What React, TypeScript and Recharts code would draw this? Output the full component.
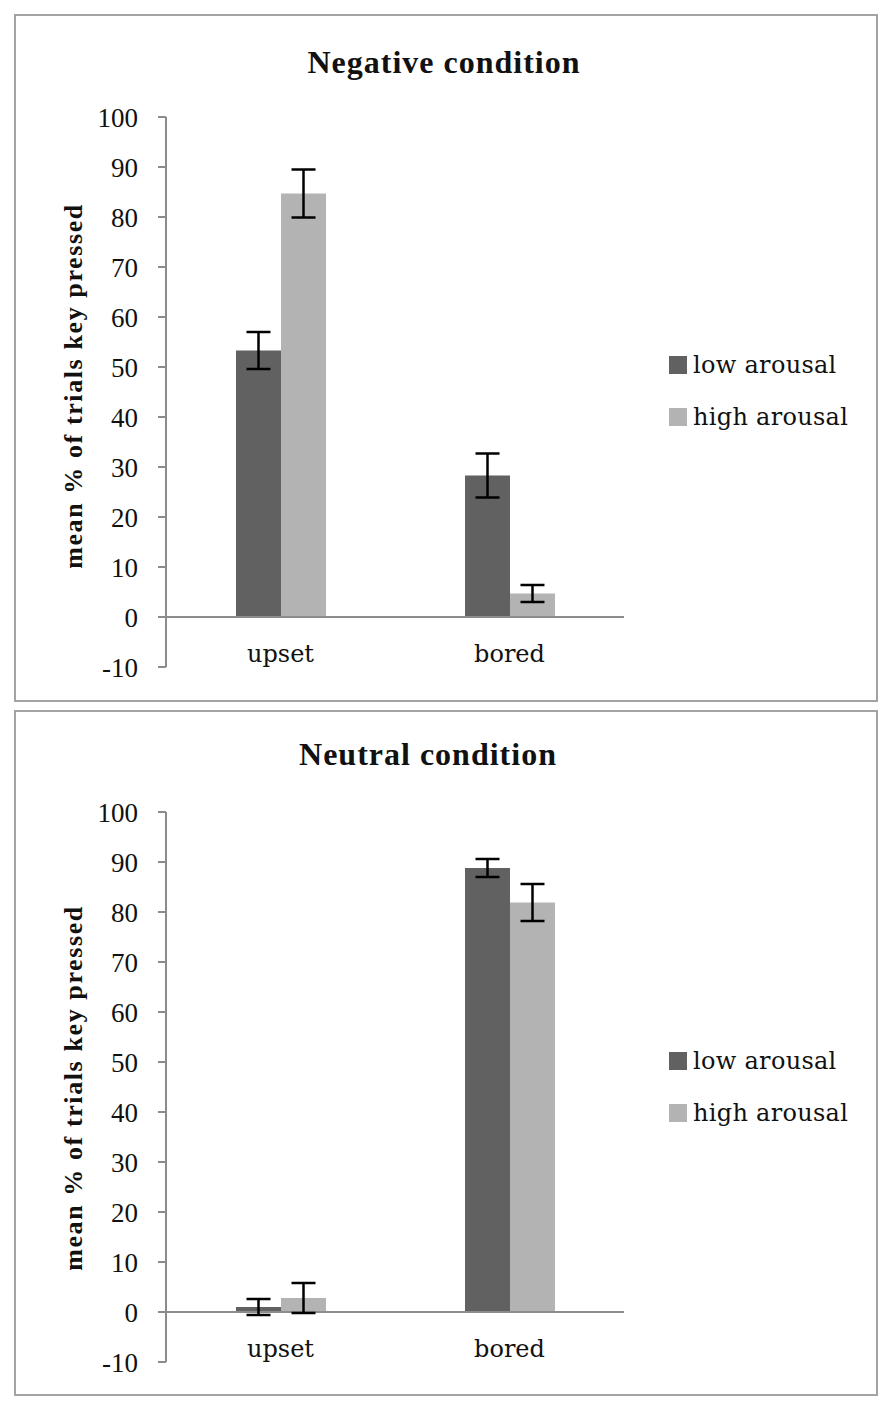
import React from "react";
import {
  Bar,
  BarChart,
  ErrorBar,
  ReferenceLine,
  XAxis,
  YAxis,
} from "recharts";

// categories and series
const categories = ["upset", "bored"];

const negativeLow = [53.3, 28.3];
const negativeLowErr = [3.7, 4.4];
const negativeHigh = [84.7, 4.7];
const negativeHighErr = [4.8, 1.7];

const neutralLow = [1.0, 88.8];
const neutralLowErr = [1.6, 1.8];
const neutralHigh = [2.8, 81.9];
const neutralHighErr = [3.0, 3.7];

const yTicks = [-10, 0, 10, 20, 30, 40, 50, 60, 70, 80, 90, 100];

const seriesNames = ["low arousal", "high arousal"];
const seriesColors = ["#616161", "#b3b3b3"];

const AXIS_GRAY = "#8c8c8c";
const BORDER_GRAY = "#a3a3a3";

interface Row {
  name: string;
  low: number;
  lowErr: number;
  high: number;
  highErr: number;
}

const buildRows = (
  low: number[],
  lowErr: number[],
  high: number[],
  highErr: number[]
): Row[] =>
  categories.map((name, i) => ({
    name,
    low: low[i],
    lowErr: lowErr[i],
    high: high[i],
    highErr: highErr[i],
  }));

const negativeData = buildRows(negativeLow, negativeLowErr, negativeHigh, negativeHighErr);
const neutralData = buildRows(neutralLow, neutralLowErr, neutralHigh, neutralHighErr);

const CategoryTick = (props: any) => {
  const { x, y, payload } = props;
  return (
    <text
      x={x}
      y={y - 13}
      textAnchor="middle"
      fontFamily="'DejaVu Serif', serif"
      fontSize={24}
      fill="#111"
    >
      {payload.value}
    </text>
  );
};

const LegendBox: React.FC<{ top: number }> = ({ top }) => (
  <div
    style={{
      position: "absolute",
      left: 653,
      top,
      fontFamily: "'DejaVu Serif', serif",
      fontSize: 24,
      color: "#111",
    }}
  >
    {seriesNames.map((n, i) => (
      <div
        key={n}
        style={{ display: "flex", alignItems: "center", height: 26, marginBottom: i === 0 ? 26 : 0 }}
      >
        <span
          style={{
            display: "inline-block",
            width: 18,
            height: 18,
            background: seriesColors[i],
            marginRight: 6,
          }}
        />
        <span style={{ letterSpacing: 0.3 }}>{n}</span>
      </div>
    ))}
  </div>
);

interface PanelProps {
  title: string;
  data: Row[];
  top: number; // top of the panel border
  height: number; // panel height
  plotTop: number; // y of 100 inside panel
  titleY: number;
  titleX: number;
  labelY: number;
  legendTop: number;
}

const Panel: React.FC<PanelProps> = ({
  title,
  data,
  top,
  height,
  plotTop,
  titleY,
  titleX,
  labelY,
  legendTop,
}) => {
  const plotHeight = 550; // 110 units * 5px
  const chartWidth = 864;
  const axisX = 152; // y-axis position inside panel
  const yAxisWidth = 60;
  return (
    <div
      style={{
        position: "absolute",
        left: 14,
        top,
        width: chartWidth,
        height,
        border: `2px solid ${BORDER_GRAY}`,
        boxSizing: "border-box",
        background: "#fff",
      }}
    >
      <div
        style={{
          position: "absolute",
          left: titleX,
          top: titleY,
          transform: "translate(-50%, -50%)",
          fontFamily: "'Liberation Serif', serif",
          fontWeight: "bold",
          fontSize: 32,
          letterSpacing: 1,
          whiteSpace: "nowrap",
          color: "#111",
        }}
      >
        {title}
      </div>
      <div
        style={{
          position: "absolute",
          left: 58,
          top: labelY,
          transform: "translate(-50%, -50%) rotate(-90deg)",
          fontFamily: "'Liberation Serif', serif",
          fontWeight: "bold",
          fontSize: 26,
          letterSpacing: 1.6,
          whiteSpace: "nowrap",
          color: "#111",
        }}
      >
        mean % of trials key pressed
      </div>
      <div style={{ position: "absolute", left: -2, top: -2 }}>
        <BarChart
          width={chartWidth}
          height={plotTop + plotHeight + 30}
          data={data}
          margin={{ top: plotTop, bottom: 0, left: axisX - yAxisWidth, right: chartWidth - 610 }}
          barGap={0}
          barSize={45}
        >
          <XAxis
            dataKey="name"
            height={30}
            axisLine={false}
            tickLine={false}
            tick={<CategoryTick />}
            interval={0}
          />
          <YAxis
            width={yAxisWidth}
            domain={[-10, 100]}
            ticks={yTicks}
            interval={0}
            allowDataOverflow
            stroke={AXIS_GRAY}
            tickSize={8}
            tickMargin={20}
            tickLine={{ stroke: AXIS_GRAY, strokeWidth: 2 }}
            axisLine={{ stroke: AXIS_GRAY, strokeWidth: 2 }}
            tick={{ fill: "#111", fontSize: 27, fontFamily: "'Liberation Serif', serif" }}
          />
          <ReferenceLine y={0} stroke={AXIS_GRAY} strokeWidth={2} />
          <Bar dataKey="low" name={seriesNames[0]} fill={seriesColors[0]} isAnimationActive={false}>
            <ErrorBar dataKey="lowErr" width={12} stroke="#000" strokeWidth={2.5} direction="y" />
          </Bar>
          <Bar dataKey="high" name={seriesNames[1]} fill={seriesColors[1]} isAnimationActive={false}>
            <ErrorBar dataKey="highErr" width={12} stroke="#000" strokeWidth={2.5} direction="y" />
          </Bar>
        </BarChart>
      </div>
      <LegendBox top={legendTop} />
    </div>
  );
};

export default function App() {
  return (
    <div
      style={{
        position: "absolute",
        left: 0,
        top: 0,
        width: 892,
        height: 1418,
        background: "#fff",
      }}
    >
      <Panel
        title="Negative condition"
        data={negativeData}
        top={14}
        height={688}
        plotTop={103}
        titleX={428}
        titleY={46}
        labelY={370}
        legendTop={336}
      />
      <Panel
        title="Neutral condition"
        data={neutralData}
        top={710}
        height={686}
        plotTop={102}
        titleX={412}
        titleY={42}
        labelY={376}
        legendTop={336}
      />
    </div>
  );
}
